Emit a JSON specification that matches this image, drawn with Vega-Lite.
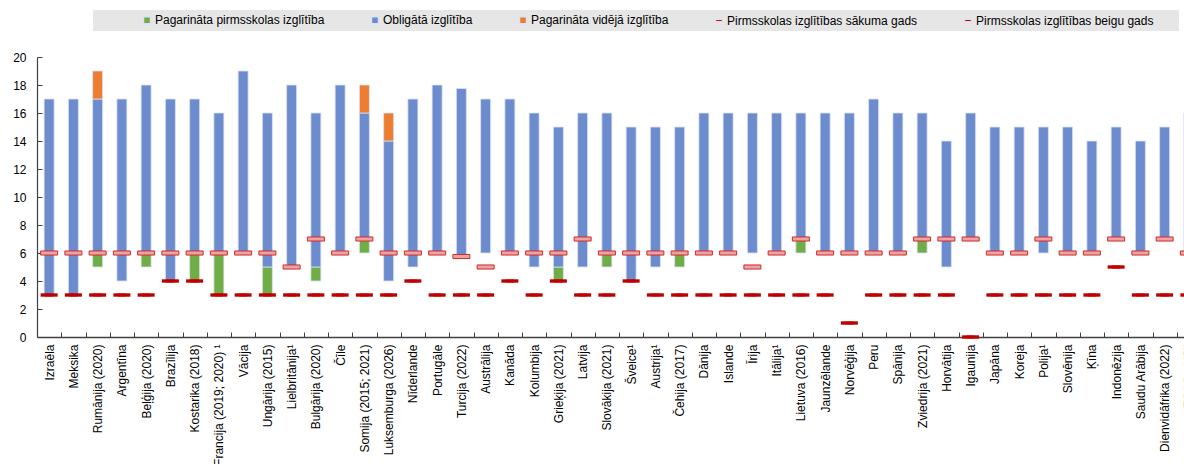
{
  "$schema": "https://vega.github.io/schema/vega-lite/v6.json",
  "autosize": {"type": "none"},
  "padding": {"left": 37, "top": 57, "right": 0, "bottom": 127},
  "width": 1147,
  "height": 280,
  "background": "white",
  "config": {
    "font": "Liberation Sans, Arial, sans-serif",
    "view": {"stroke": null},
    "axis": {"labelFontSize": 12, "labelColor": "#000000", "domainColor": "#404040", "tickColor": "#404040", "grid": false, "title": null},
    "axisY": {"labelOverlap": false, "tickSize": -5, "labelPadding": 16, "domainWidth": 1.2},
    "legend": {
      "titleOrient": "right", "titlePadding": 22, "titleFontSize": 12,
      "orient": "none", "legendX": 56, "legendY": -47,
      "direction": "horizontal", "columns": 5,
      "fillColor": "#e6e6e6", "padding": 4,
      "symbolOffset": 44, "columnPadding": 0,
      "symbolSize": 49, "labelFontSize": 12, "labelColor": "#000000", "labelOffset": 2, "labelLimit": 300
    }
  },
  "datasets": {
    "segments": [
      {"country": "Izraēla", "type": "Obligātā izglītība", "from": 3, "to": 17},
      {"country": "Meksika", "type": "Obligātā izglītība", "from": 3, "to": 17},
      {"country": "Rumānija (2020)", "type": "Pagarināta pirmsskolas izglītība", "from": 5, "to": 6},
      {"country": "Rumānija (2020)", "type": "Obligātā izglītība", "from": 6, "to": 17},
      {"country": "Rumānija (2020)", "type": "Pagarināta vidējā izglītība", "from": 17, "to": 19},
      {"country": "Argentīna", "type": "Obligātā izglītība", "from": 4, "to": 17},
      {"country": "Beļģija (2020)", "type": "Pagarināta pirmsskolas izglītība", "from": 5, "to": 6},
      {"country": "Beļģija (2020)", "type": "Obligātā izglītība", "from": 6, "to": 18},
      {"country": "Brazīlija", "type": "Obligātā izglītība", "from": 4, "to": 17},
      {"country": "Kostarika (2018)", "type": "Pagarināta pirmsskolas izglītība", "from": 4, "to": 6},
      {"country": "Kostarika (2018)", "type": "Obligātā izglītība", "from": 6, "to": 17},
      {"country": "Francija (2019; 2020) ¹", "type": "Pagarināta pirmsskolas izglītība", "from": 3, "to": 6},
      {"country": "Francija (2019; 2020) ¹", "type": "Obligātā izglītība", "from": 6, "to": 16},
      {"country": "Vācija", "type": "Obligātā izglītība", "from": 6, "to": 19},
      {"country": "Ungārija (2015)", "type": "Pagarināta pirmsskolas izglītība", "from": 3, "to": 5},
      {"country": "Ungārija (2015)", "type": "Obligātā izglītība", "from": 5, "to": 16},
      {"country": "Lielbritānija¹", "type": "Obligātā izglītība", "from": 5, "to": 18},
      {"country": "Bulgārija (2020)", "type": "Pagarināta pirmsskolas izglītība", "from": 4, "to": 5},
      {"country": "Bulgārija (2020)", "type": "Obligātā izglītība", "from": 5, "to": 16},
      {"country": "Čīle", "type": "Obligātā izglītība", "from": 6, "to": 18},
      {"country": "Somija (2015; 2021)", "type": "Pagarināta pirmsskolas izglītība", "from": 6, "to": 7},
      {"country": "Somija (2015; 2021)", "type": "Obligātā izglītība", "from": 7, "to": 16},
      {"country": "Somija (2015; 2021)", "type": "Pagarināta vidējā izglītība", "from": 16, "to": 18},
      {"country": "Luksemburga (2026)", "type": "Obligātā izglītība", "from": 4, "to": 14},
      {"country": "Luksemburga (2026)", "type": "Pagarināta vidējā izglītība", "from": 14, "to": 16},
      {"country": "Nīderlande", "type": "Obligātā izglītība", "from": 5, "to": 17},
      {"country": "Portugāle", "type": "Obligātā izglītība", "from": 6, "to": 18},
      {"country": "Turcija (2022)", "type": "Obligātā izglītība", "from": 5.75, "to": 17.75},
      {"country": "Austrālija", "type": "Obligātā izglītība", "from": 6, "to": 17},
      {"country": "Kanāda", "type": "Obligātā izglītība", "from": 6, "to": 17},
      {"country": "Kolumbija", "type": "Obligātā izglītība", "from": 5, "to": 16},
      {"country": "Grieķija (2021)", "type": "Pagarināta pirmsskolas izglītība", "from": 4, "to": 5},
      {"country": "Grieķija (2021)", "type": "Obligātā izglītība", "from": 5, "to": 15},
      {"country": "Latvija", "type": "Obligātā izglītība", "from": 5, "to": 16},
      {"country": "Slovākija (2021)", "type": "Pagarināta pirmsskolas izglītība", "from": 5, "to": 6},
      {"country": "Slovākija (2021)", "type": "Obligātā izglītība", "from": 6, "to": 16},
      {"country": "Šveice¹", "type": "Obligātā izglītība", "from": 4, "to": 15},
      {"country": "Austrija¹", "type": "Obligātā izglītība", "from": 5, "to": 15},
      {"country": "Čehija (2017)", "type": "Pagarināta pirmsskolas izglītība", "from": 5, "to": 6},
      {"country": "Čehija (2017)", "type": "Obligātā izglītība", "from": 6, "to": 15},
      {"country": "Dānija", "type": "Obligātā izglītība", "from": 6, "to": 16},
      {"country": "Islande", "type": "Obligātā izglītība", "from": 6, "to": 16},
      {"country": "Īrija", "type": "Obligātā izglītība", "from": 6, "to": 16},
      {"country": "Itālija¹", "type": "Obligātā izglītība", "from": 6, "to": 16},
      {"country": "Lietuva (2016)", "type": "Pagarināta pirmsskolas izglītība", "from": 6, "to": 7},
      {"country": "Lietuva (2016)", "type": "Obligātā izglītība", "from": 7, "to": 16},
      {"country": "Jaunzēlande", "type": "Obligātā izglītība", "from": 6, "to": 16},
      {"country": "Norvēģija", "type": "Obligātā izglītība", "from": 6, "to": 16},
      {"country": "Peru", "type": "Obligātā izglītība", "from": 6, "to": 17},
      {"country": "Spānija", "type": "Obligātā izglītība", "from": 6, "to": 16},
      {"country": "Zviedrija (2021)", "type": "Pagarināta pirmsskolas izglītība", "from": 6, "to": 7},
      {"country": "Zviedrija (2021)", "type": "Obligātā izglītība", "from": 7, "to": 16},
      {"country": "Horvātija", "type": "Obligātā izglītība", "from": 5, "to": 14},
      {"country": "Igaunija", "type": "Obligātā izglītība", "from": 7, "to": 16},
      {"country": "Japāna", "type": "Obligātā izglītība", "from": 6, "to": 15},
      {"country": "Koreja", "type": "Obligātā izglītība", "from": 6, "to": 15},
      {"country": "Polija¹", "type": "Obligātā izglītība", "from": 6, "to": 15},
      {"country": "Slovēnija", "type": "Obligātā izglītība", "from": 6, "to": 15},
      {"country": "Ķīna", "type": "Obligātā izglītība", "from": 6, "to": 14},
      {"country": "Indonēzija", "type": "Obligātā izglītība", "from": 7, "to": 15},
      {"country": "Saudu Arābija", "type": "Obligātā izglītība", "from": 6, "to": 14},
      {"country": "Dienvidāfrika (2022)", "type": "Obligātā izglītība", "from": 7, "to": 15},
      {"country": "ESAO vidēji", "type": "Obligātā izglītība", "from": 6, "to": 16}
    ],
    "markers": [
      {"country": "Izraēla", "type": "Pirmsskolas izglītības sākuma gads", "value": 3},
      {"country": "Izraēla", "type": "Pirmsskolas izglītības beigu gads", "value": 6},
      {"country": "Meksika", "type": "Pirmsskolas izglītības sākuma gads", "value": 3},
      {"country": "Meksika", "type": "Pirmsskolas izglītības beigu gads", "value": 6},
      {"country": "Rumānija (2020)", "type": "Pirmsskolas izglītības sākuma gads", "value": 3},
      {"country": "Rumānija (2020)", "type": "Pirmsskolas izglītības beigu gads", "value": 6},
      {"country": "Argentīna", "type": "Pirmsskolas izglītības sākuma gads", "value": 3},
      {"country": "Argentīna", "type": "Pirmsskolas izglītības beigu gads", "value": 6},
      {"country": "Beļģija (2020)", "type": "Pirmsskolas izglītības sākuma gads", "value": 3},
      {"country": "Beļģija (2020)", "type": "Pirmsskolas izglītības beigu gads", "value": 6},
      {"country": "Brazīlija", "type": "Pirmsskolas izglītības sākuma gads", "value": 4},
      {"country": "Brazīlija", "type": "Pirmsskolas izglītības beigu gads", "value": 6},
      {"country": "Kostarika (2018)", "type": "Pirmsskolas izglītības sākuma gads", "value": 4},
      {"country": "Kostarika (2018)", "type": "Pirmsskolas izglītības beigu gads", "value": 6},
      {"country": "Francija (2019; 2020) ¹", "type": "Pirmsskolas izglītības sākuma gads", "value": 3},
      {"country": "Francija (2019; 2020) ¹", "type": "Pirmsskolas izglītības beigu gads", "value": 6},
      {"country": "Vācija", "type": "Pirmsskolas izglītības sākuma gads", "value": 3},
      {"country": "Vācija", "type": "Pirmsskolas izglītības beigu gads", "value": 6},
      {"country": "Ungārija (2015)", "type": "Pirmsskolas izglītības sākuma gads", "value": 3},
      {"country": "Ungārija (2015)", "type": "Pirmsskolas izglītības beigu gads", "value": 6},
      {"country": "Lielbritānija¹", "type": "Pirmsskolas izglītības sākuma gads", "value": 3},
      {"country": "Lielbritānija¹", "type": "Pirmsskolas izglītības beigu gads", "value": 5},
      {"country": "Bulgārija (2020)", "type": "Pirmsskolas izglītības sākuma gads", "value": 3},
      {"country": "Bulgārija (2020)", "type": "Pirmsskolas izglītības beigu gads", "value": 7},
      {"country": "Čīle", "type": "Pirmsskolas izglītības sākuma gads", "value": 3},
      {"country": "Čīle", "type": "Pirmsskolas izglītības beigu gads", "value": 6},
      {"country": "Somija (2015; 2021)", "type": "Pirmsskolas izglītības sākuma gads", "value": 3},
      {"country": "Somija (2015; 2021)", "type": "Pirmsskolas izglītības beigu gads", "value": 7},
      {"country": "Luksemburga (2026)", "type": "Pirmsskolas izglītības sākuma gads", "value": 3},
      {"country": "Luksemburga (2026)", "type": "Pirmsskolas izglītības beigu gads", "value": 6},
      {"country": "Nīderlande", "type": "Pirmsskolas izglītības sākuma gads", "value": 4},
      {"country": "Nīderlande", "type": "Pirmsskolas izglītības beigu gads", "value": 6},
      {"country": "Portugāle", "type": "Pirmsskolas izglītības sākuma gads", "value": 3},
      {"country": "Portugāle", "type": "Pirmsskolas izglītības beigu gads", "value": 6},
      {"country": "Turcija (2022)", "type": "Pirmsskolas izglītības sākuma gads", "value": 3},
      {"country": "Turcija (2022)", "type": "Pirmsskolas izglītības beigu gads", "value": 5.75},
      {"country": "Austrālija", "type": "Pirmsskolas izglītības sākuma gads", "value": 3},
      {"country": "Austrālija", "type": "Pirmsskolas izglītības beigu gads", "value": 5},
      {"country": "Kanāda", "type": "Pirmsskolas izglītības sākuma gads", "value": 4},
      {"country": "Kanāda", "type": "Pirmsskolas izglītības beigu gads", "value": 6},
      {"country": "Kolumbija", "type": "Pirmsskolas izglītības sākuma gads", "value": 3},
      {"country": "Kolumbija", "type": "Pirmsskolas izglītības beigu gads", "value": 6},
      {"country": "Grieķija (2021)", "type": "Pirmsskolas izglītības sākuma gads", "value": 4},
      {"country": "Grieķija (2021)", "type": "Pirmsskolas izglītības beigu gads", "value": 6},
      {"country": "Latvija", "type": "Pirmsskolas izglītības sākuma gads", "value": 3},
      {"country": "Latvija", "type": "Pirmsskolas izglītības beigu gads", "value": 7},
      {"country": "Slovākija (2021)", "type": "Pirmsskolas izglītības sākuma gads", "value": 3},
      {"country": "Slovākija (2021)", "type": "Pirmsskolas izglītības beigu gads", "value": 6},
      {"country": "Šveice¹", "type": "Pirmsskolas izglītības sākuma gads", "value": 4},
      {"country": "Šveice¹", "type": "Pirmsskolas izglītības beigu gads", "value": 6},
      {"country": "Austrija¹", "type": "Pirmsskolas izglītības sākuma gads", "value": 3},
      {"country": "Austrija¹", "type": "Pirmsskolas izglītības beigu gads", "value": 6},
      {"country": "Čehija (2017)", "type": "Pirmsskolas izglītības sākuma gads", "value": 3},
      {"country": "Čehija (2017)", "type": "Pirmsskolas izglītības beigu gads", "value": 6},
      {"country": "Dānija", "type": "Pirmsskolas izglītības sākuma gads", "value": 3},
      {"country": "Dānija", "type": "Pirmsskolas izglītības beigu gads", "value": 6},
      {"country": "Islande", "type": "Pirmsskolas izglītības sākuma gads", "value": 3},
      {"country": "Islande", "type": "Pirmsskolas izglītības beigu gads", "value": 6},
      {"country": "Īrija", "type": "Pirmsskolas izglītības sākuma gads", "value": 3},
      {"country": "Īrija", "type": "Pirmsskolas izglītības beigu gads", "value": 5},
      {"country": "Itālija¹", "type": "Pirmsskolas izglītības sākuma gads", "value": 3},
      {"country": "Itālija¹", "type": "Pirmsskolas izglītības beigu gads", "value": 6},
      {"country": "Lietuva (2016)", "type": "Pirmsskolas izglītības sākuma gads", "value": 3},
      {"country": "Lietuva (2016)", "type": "Pirmsskolas izglītības beigu gads", "value": 7},
      {"country": "Jaunzēlande", "type": "Pirmsskolas izglītības sākuma gads", "value": 3},
      {"country": "Jaunzēlande", "type": "Pirmsskolas izglītības beigu gads", "value": 6},
      {"country": "Norvēģija", "type": "Pirmsskolas izglītības sākuma gads", "value": 1},
      {"country": "Norvēģija", "type": "Pirmsskolas izglītības beigu gads", "value": 6},
      {"country": "Peru", "type": "Pirmsskolas izglītības sākuma gads", "value": 3},
      {"country": "Peru", "type": "Pirmsskolas izglītības beigu gads", "value": 6},
      {"country": "Spānija", "type": "Pirmsskolas izglītības sākuma gads", "value": 3},
      {"country": "Spānija", "type": "Pirmsskolas izglītības beigu gads", "value": 6},
      {"country": "Zviedrija (2021)", "type": "Pirmsskolas izglītības sākuma gads", "value": 3},
      {"country": "Zviedrija (2021)", "type": "Pirmsskolas izglītības beigu gads", "value": 7},
      {"country": "Horvātija", "type": "Pirmsskolas izglītības sākuma gads", "value": 3},
      {"country": "Horvātija", "type": "Pirmsskolas izglītības beigu gads", "value": 7},
      {"country": "Igaunija", "type": "Pirmsskolas izglītības sākuma gads", "value": 0},
      {"country": "Igaunija", "type": "Pirmsskolas izglītības beigu gads", "value": 7},
      {"country": "Japāna", "type": "Pirmsskolas izglītības sākuma gads", "value": 3},
      {"country": "Japāna", "type": "Pirmsskolas izglītības beigu gads", "value": 6},
      {"country": "Koreja", "type": "Pirmsskolas izglītības sākuma gads", "value": 3},
      {"country": "Koreja", "type": "Pirmsskolas izglītības beigu gads", "value": 6},
      {"country": "Polija¹", "type": "Pirmsskolas izglītības sākuma gads", "value": 3},
      {"country": "Polija¹", "type": "Pirmsskolas izglītības beigu gads", "value": 7},
      {"country": "Slovēnija", "type": "Pirmsskolas izglītības sākuma gads", "value": 3},
      {"country": "Slovēnija", "type": "Pirmsskolas izglītības beigu gads", "value": 6},
      {"country": "Ķīna", "type": "Pirmsskolas izglītības sākuma gads", "value": 3},
      {"country": "Ķīna", "type": "Pirmsskolas izglītības beigu gads", "value": 6},
      {"country": "Indonēzija", "type": "Pirmsskolas izglītības sākuma gads", "value": 5},
      {"country": "Indonēzija", "type": "Pirmsskolas izglītības beigu gads", "value": 7},
      {"country": "Saudu Arābija", "type": "Pirmsskolas izglītības sākuma gads", "value": 3},
      {"country": "Saudu Arābija", "type": "Pirmsskolas izglītības beigu gads", "value": 6},
      {"country": "Dienvidāfrika (2022)", "type": "Pirmsskolas izglītības sākuma gads", "value": 3},
      {"country": "Dienvidāfrika (2022)", "type": "Pirmsskolas izglītības beigu gads", "value": 7},
      {"country": "ESAO vidēji", "type": "Pirmsskolas izglītības sākuma gads", "value": 3},
      {"country": "ESAO vidēji", "type": "Pirmsskolas izglītības beigu gads", "value": 6}
    ]
  },
  "encoding": {
    "x": {
      "field": "country", "type": "nominal", "sort": null,
      "scale": {"range": [0, 1164], "paddingInner": 0, "paddingOuter": 0},
      "axis": {"labelAngle": -90, "tickBand": "extent", "tickSize": -5, "labelPadding": 12, "labelOverlap": false, "labelLimit": 200, "domainWidth": 1.5}
    }
  },
  "layer": [
    {
      "data": {"name": "segments"},
      "mark": {"type": "bar", "width": 10, "stroke": "#dbe2f4", "strokeWidth": 0.8},
      "encoding": {
        "y": {"field": "from", "type": "quantitative",
          "scale": {"domain": [0, 20], "nice": false},
          "axis": {"values": [0, 2, 4, 6, 8, 10, 12, 14, 16, 18, 20], "labelOverlap": false}},
        "y2": {"field": "to"},
        "color": {"field": "type", "type": "nominal",
          "scale": {
            "domain": ["Pagarināta pirmsskolas izglītība", "Obligātā izglītība", "Pagarināta vidējā izglītība", "Pirmsskolas izglītības sākuma gads", "Pirmsskolas izglītības beigu gads"],
            "range": ["#70ad47", "#6d8ccd", "#ed7d31", "#e00000", "#c00000"]},
          "legend": {"title": "\u00a0", "titleOrient": "right", "titlePadding": 22}
        }
      }
    },
    {
      "data": {"name": "markers"},
      "mark": {"type": "point", "filled": true, "opacity": 1, "size": 64},
      "encoding": {
        "y": {"field": "value", "type": "quantitative", "axis": {"values": [0, 2, 4, 6, 8, 10, 12, 14, 16, 18, 20], "labelOverlap": false}},
        "color": {"field": "type", "type": "nominal",
          "scale": {
            "domain": ["Pagarināta pirmsskolas izglītība", "Obligātā izglītība", "Pagarināta vidējā izglītība", "Pirmsskolas izglītības sākuma gads", "Pirmsskolas izglītības beigu gads"],
            "range": ["#70ad47", "#6d8ccd", "#ed7d31", "#e00000", "#c00000"]},
          "legend": {"title": "\u00a0", "titleOrient": "right", "titlePadding": 22}},
        "shape": {"field": "type", "type": "nominal",
          "scale": {
            "domain": ["Pagarināta pirmsskolas izglītība", "Obligātā izglītība", "Pagarināta vidējā izglītība", "Pirmsskolas izglītības sākuma gads", "Pirmsskolas izglītības beigu gads"],
            "range": ["square", "square", "square", "M-1,-0.38H1V0.38H-1Z", "M-1,-0.38H1V0.38H-1Z"]},
          "legend": {"title": "\u00a0", "titleOrient": "right", "titlePadding": 22}
        }
      }
    },
    {
      "data": {"name": "markers"},
      "transform": [{"filter": "datum.type === 'Pirmsskolas izglītības sākuma gads'"}],
      "mark": {"type": "point", "filled": true, "opacity": 1, "size": 289, "shape": "M-1,-0.2H1V0.2H-1Z", "fill": "#c00000", "stroke": null},
      "encoding": {
        "y": {"field": "value", "type": "quantitative", "axis": {"values": [0, 2, 4, 6, 8, 10, 12, 14, 16, 18, 20], "labelOverlap": false}}
      }
    },
    {
      "data": {"name": "markers"},
      "transform": [{"filter": "datum.type === 'Pirmsskolas izglītības beigu gads'"}],
      "mark": {"type": "point", "filled": true, "opacity": 1, "size": 289, "shape": "M-1,-0.24H1V0.24H-1Z", "fill": "#eba3a3", "stroke": "#d22a2a", "strokeWidth": 1},
      "encoding": {
        "y": {"field": "value", "type": "quantitative", "axis": {"values": [0, 2, 4, 6, 8, 10, 12, 14, 16, 18, 20], "labelOverlap": false}}
      }
    }
  ]
}
